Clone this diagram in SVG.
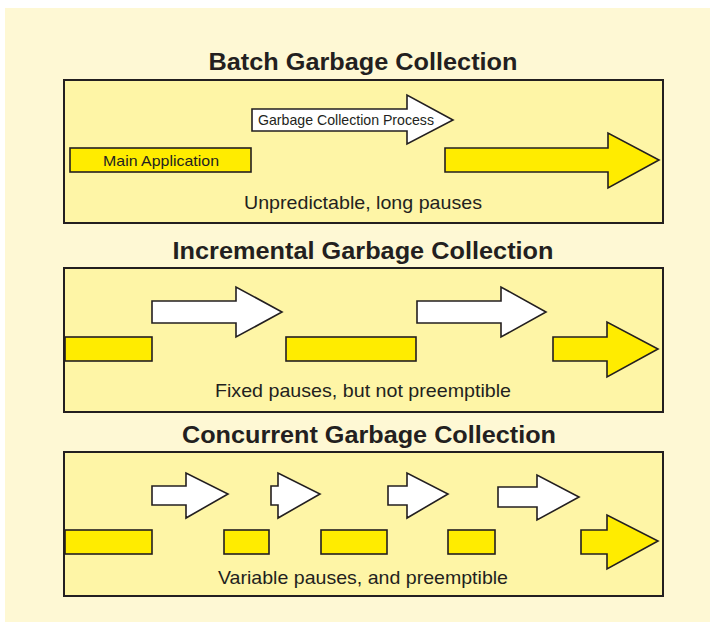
<svg xmlns="http://www.w3.org/2000/svg" width="716" height="623" viewBox="0 0 716 623">
  <style>
    .panel { fill: #FEF8D4; }
    .frame { fill: #FEF5A6; stroke: #231F20; stroke-width: 2; }
    .app { fill: #FFEC00; stroke: #231F20; stroke-width: 1.6; stroke-linejoin: miter; }
    .gc { fill: #FFFFFF; stroke: #231F20; stroke-width: 1.6; stroke-linejoin: miter; }
    .title { font-family: "Liberation Sans", Arial, sans-serif; font-weight: bold; font-size: 24px; fill: #231F20; text-anchor: middle; }
    .caption { font-family: "Liberation Sans", Arial, sans-serif; font-size: 19px; fill: #231F20; text-anchor: middle; }
    .label { font-family: "Liberation Sans", Arial, sans-serif; font-size: 15px; fill: #231F20; text-anchor: middle; }
  </style>

  <rect x="0" y="0" width="716" height="623" fill="#FFFFFF"/>
  <rect class="panel" x="5" y="8" width="705" height="614"/>

  <!-- Batch -->
  <g id="batch">
    <text class="title" x="363" y="70" textLength="309" lengthAdjust="spacingAndGlyphs">Batch Garbage Collection</text>
    <rect class="frame" x="64" y="80" width="599" height="143"/>
    <g id="batch-app">
      <rect class="app" x="70" y="148" width="181" height="24"/>
      <text class="label" x="161" y="166" textLength="116" lengthAdjust="spacingAndGlyphs">Main Application</text>
    </g>
    <g id="batch-gc">
      <path class="gc" d="M252,109 H407 V95 L453,120 L407,144 V131 H252 Z"/>
      <text class="label" x="346" y="125" font-size="14" textLength="176" lengthAdjust="spacingAndGlyphs">Garbage Collection Process</text>
    </g>
    <g id="batch-resume">
      <path class="app" d="M445,148 H608 V133 L659,160 L608,188 V172 H445 Z"/>
    </g>
    <text class="caption" x="363" y="209" textLength="238" lengthAdjust="spacingAndGlyphs">Unpredictable, long pauses</text>
  </g>

  <!-- Incremental -->
  <g id="incremental">
    <text class="title" x="363" y="259" textLength="381" lengthAdjust="spacingAndGlyphs">Incremental Garbage Collection</text>
    <rect class="frame" x="64" y="268" width="599" height="144"/>
    <rect class="app" x="65" y="337" width="87" height="24"/>
    <path class="gc" d="M152,301 H236 V287 L282,312 L236,337 V323 H152 Z"/>
    <rect class="app" x="286" y="337" width="130" height="24"/>
    <path class="gc" d="M417,301 H501 V287 L546,312 L501,337 V323 H417 Z"/>
    <path class="app" d="M553,337 H607 V322 L658,349 L607,377 V361 H553 Z"/>
    <text class="caption" x="363" y="397" textLength="296" lengthAdjust="spacingAndGlyphs">Fixed pauses, but not preemptible</text>
  </g>

  <!-- Concurrent -->
  <g id="concurrent">
    <text class="title" x="369" y="443" textLength="374" lengthAdjust="spacingAndGlyphs">Concurrent Garbage Collection</text>
    <rect class="frame" x="64" y="452" width="599" height="144"/>
    <rect class="app" x="65" y="530" width="87" height="24"/>
    <path class="gc" d="M152,486 H186 V473 L228,494 L186,518 V505 H152 Z"/>
    <rect class="app" x="224" y="530" width="45" height="24"/>
    <path class="gc" d="M271,486 H278 V473 L320,494 L278,518 V505 H271 Z"/>
    <rect class="app" x="321" y="530" width="66" height="24"/>
    <path class="gc" d="M388,486 H407 V473 L448,494 L407,518 V505 H388 Z"/>
    <rect class="app" x="448" y="530" width="47" height="24"/>
    <path class="gc" d="M498,487 H537 V475 L579,497 L537,520 V507 H498 Z"/>
    <path class="app" d="M581,530 H607 V515 L658,541 L607,569 V554 H581 Z"/>
    <text class="caption" x="363" y="584" textLength="290" lengthAdjust="spacingAndGlyphs">Variable pauses, and preemptible</text>
  </g>
</svg>
